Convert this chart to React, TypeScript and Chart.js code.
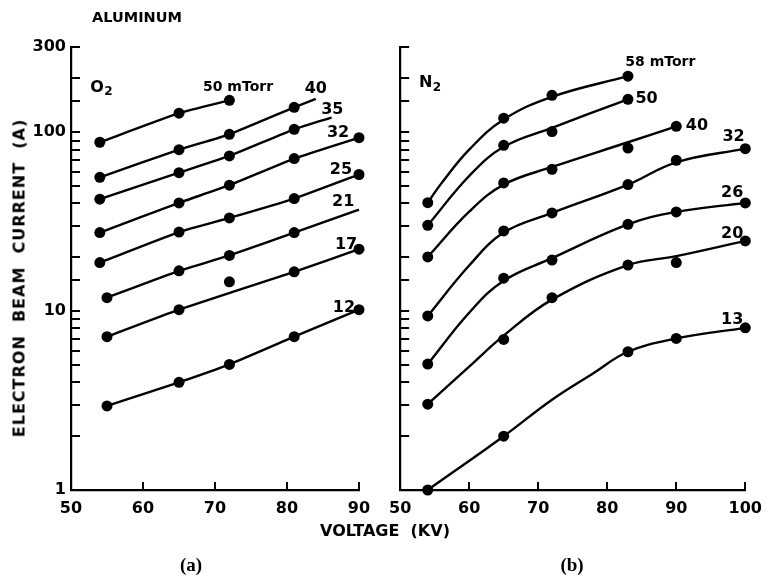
import React, { useEffect, useRef } from 'react';
import Chart from 'chart.js/auto';

type P = [number, number];

// ---------- Panel (a): O2, aluminum ----------
const O2_X_MAX = 90;
const O2_50_DOTS: P[] = [[54, 88], [65, 128], [72, 151]];
const O2_50_LINE: P[] = [[54, 88], [65, 128], [72, 151]];
const O2_40_DOTS: P[] = [[54, 56], [65, 80], [72, 97.5], [81, 138]];
const O2_40_LINE: P[] = [[54, 56], [65, 80], [72, 97.5], [81, 138], [84, 154]];
const O2_35_DOTS: P[] = [[54, 42.3], [65, 59.5], [72, 73.8], [81, 104]];
const O2_35_LINE: P[] = [[54, 42.3], [65, 59.5], [72, 73.8], [81, 104], [86.2, 121]];
const O2_32_DOTS: P[] = [[54, 27.5], [65, 40.3], [72, 50.6], [81, 71.3], [90, 93.4]];
const O2_32_LINE: P[] = [[54, 27.5], [65, 40.3], [72, 50.6], [81, 71.3], [90, 93.4]];
const O2_25_DOTS: P[] = [[54, 18.7], [65, 27.7], [72, 33.2], [81, 42.6], [90, 58.1]];
const O2_25_LINE: P[] = [[54, 18.7], [65, 27.7], [72, 33.2], [81, 42.6], [90, 58.1]];
const O2_21_DOTS: P[] = [[55, 11.9], [65, 16.8], [72, 20.5], [81, 27.5]];
const O2_21_LINE: P[] = [[55, 11.9], [65, 16.8], [72, 20.5], [81, 27.5], [90, 37]];
const O2_17_DOTS: P[] = [[55, 7.2], [65, 10.2], [72, 14.6], [81, 16.6], [90, 22.2]];
const O2_17_LINE: P[] = [[55, 7.2], [65, 10.2], [81, 16.6], [90, 22.2]];
const O2_12_DOTS: P[] = [[55, 2.95], [65, 4.0], [72, 5.04], [81, 7.2], [90, 10.2]];
const O2_12_LINE: P[] = [[55, 2.95], [65, 4.0], [72, 5.04], [81, 7.2], [90, 10.2]];

const O2_LABEL_TEXT = ['50 mTorr', '40', '35', '32', '25', '21', '17', '12'];
const O2_LABEL_KV = [73.2, 84, 86.3, 87.1, 87.5, 87.8, 88.2, 87.9];
const O2_LABEL_A = [178, 176, 134, 98.7, 61.3, 40.7, 23.4, 10.5];

// ---------- Panel (b): N2 ----------
const N2_X_MAX = 100;
const N2_58_DOTS: P[] = [[54, 40.4], [65, 120], [72, 161], [83, 206]];
const N2_58_LINE: P[] = [[54, 40.4], [56, 52], [60, 80], [65, 118], [72, 158], [83, 206]];
const N2_50_DOTS: P[] = [[54, 30.2], [65, 84.6], [72, 101], [83, 153]];
const N2_50_LINE: P[] = [[54, 30.2], [60, 57], [65, 83], [72, 106], [83, 153]];
const N2_40_DOTS: P[] = [[54, 20.1], [65, 52.1], [72, 62.1], [83, 81.7], [90, 108]];
const N2_40_LINE: P[] = [[54, 20.1], [60, 36], [65, 51], [72, 64], [83, 88], [90, 108]];
const N2_32_DOTS: P[] = [[54, 9.4], [65, 28.1], [72, 35.4], [83, 51], [90, 69.8], [100, 81]];
const N2_32_LINE: P[] = [[54, 9.4], [60, 18], [65, 27.5], [72, 35.4], [83, 51], [90, 68], [100, 81]];
const N2_26_DOTS: P[] = [[54, 5.06], [65, 15.3], [72, 19.3], [83, 30.6], [90, 35.9], [100, 40.3]];
const N2_26_LINE: P[] = [[54, 5.06], [60, 9.8], [65, 14.8], [72, 19.8], [83, 30.6], [90, 35.9], [100, 40.3]];
const N2_20_DOTS: P[] = [[54, 3.02], [65, 6.95], [72, 11.9], [83, 18.1], [90, 18.7], [100, 24.7]];
const N2_20_LINE: P[] = [[54, 3.02], [60, 4.9], [65, 7.3], [72, 11.6], [83, 18.1], [90, 20.3], [100, 24.7]];
const N2_13_DOTS: P[] = [[54, 1], [65, 2.0], [83, 5.93], [90, 7.04], [100, 8.07]];
const N2_13_LINE: P[] = [[54, 1], [65, 2.0], [72, 3.2], [78, 4.5], [83, 5.93], [90, 7.04], [100, 8.07]];

const N2_LABEL_TEXT = ['58 mTorr', '50', '40', '32', '26', '20', '13'];
const N2_LABEL_KV = [87.7, 85.7, 93.0, 98.3, 98.1, 98.1, 98.1];
const N2_LABEL_A = [246, 153, 109, 93.8, 45.6, 27.2, 8.9];

// ---------- Axes ----------
const Y_MIN = 1;
const Y_MAX = 300;
const Y_LABELS = [1, 10, 100, 300];
const X_MIN = 50;
const X_STEP = 10;

const FONT = '"DejaVu Sans", sans-serif';

type Curve = { dots: P[]; line: P[] };
type LabelItem = { text: string; sub?: string; x: number; y: number; size: number };

const panelPlugin = {
  id: 'panelDecor',
  afterDraw(chart: any) {
    const { ctx, chartArea, scales } = chart;
    const xs = scales.x;
    const ys = scales.y;
    ctx.save();
    ctx.strokeStyle = '#000';
    ctx.lineWidth = 2;
    ctx.beginPath();
    ys.ticks.forEach((t: any) => {
      const py = Math.round(ys.getPixelForValue(t.value));
      ctx.moveTo(chartArea.left, py);
      ctx.lineTo(chartArea.left + 9, py);
    });
    xs.ticks.forEach((t: any) => {
      if (t.value === xs.min) return;
      const px = Math.round(xs.getPixelForValue(t.value));
      ctx.moveTo(px, chartArea.bottom);
      ctx.lineTo(px, chartArea.bottom - 8);
    });
    ctx.stroke();

    const items: LabelItem[] = chart.options.plugins.panelDecor.items || [];
    ctx.fillStyle = '#000';
    ctx.textBaseline = 'middle';
    items.forEach((it) => {
      const px = xs.getPixelForValue(it.x);
      const py = ys.getPixelForValue(it.y);
      ctx.font = `bold ${it.size}px ${FONT}`;
      const w1 = ctx.measureText(it.text).width;
      let w2 = 0;
      if (it.sub) {
        ctx.font = `bold ${Math.round(it.size * 0.72)}px ${FONT}`;
        w2 = ctx.measureText(it.sub).width;
      }
      const start = px - (w1 + w2) / 2;
      ctx.textAlign = 'left';
      ctx.font = `bold ${it.size}px ${FONT}`;
      ctx.fillText(it.text, start, py);
      if (it.sub) {
        ctx.font = `bold ${Math.round(it.size * 0.72)}px ${FONT}`;
        ctx.fillText(it.sub, start + w1 + 0.5, py + it.size * 0.3);
      }
    });
    ctx.restore();
  },
};

function toXY(arr: P[]) {
  return arr.map(([x, y]) => ({ x, y }));
}

function makeConfig(
  curves: Curve[],
  xMax: number,
  items: LabelItem[],
  showYLabels: boolean,
  yWidth: number,
  padRight: number,
  tension: number
): any {
  const datasets: any[] = [];
  curves.forEach((c) => {
    datasets.push({
      data: toXY(c.line),
      showLine: true,
      pointRadius: 0,
      pointHoverRadius: 0,
      borderColor: '#000',
      borderWidth: 2.4,
      tension,
      clip: false,
    });
    datasets.push({
      data: toXY(c.dots),
      showLine: false,
      pointRadius: 5.5,
      pointHoverRadius: 5.5,
      backgroundColor: '#000',
      borderColor: '#000',
      borderWidth: 0,
      clip: false,
    });
  });
  const tickFont = { family: FONT, size: 16, weight: 'bold' as const };
  return {
    type: 'scatter',
    data: { datasets },
    options: {
      animation: false,
      responsive: false,
      events: [],
      layout: { padding: { top: 47, right: padRight, left: 0, bottom: 0 } },
      plugins: {
        legend: { display: false },
        tooltip: { enabled: false },
        panelDecor: { items },
      },
      scales: {
        x: {
          type: 'linear',
          min: X_MIN,
          max: xMax,
          grid: { display: false, drawTicks: false },
          border: { display: true, color: '#000', width: 2.2 },
          ticks: {
            stepSize: X_STEP,
            color: '#000',
            font: tickFont,
            padding: 9,
            maxRotation: 0,
            autoSkip: false,
          },
          afterFit: (s: any) => {
            s.height = 86;
          },
        },
        y: {
          type: 'logarithmic',
          position: 'left',
          min: Y_MIN,
          max: Y_MAX,
          grid: { display: false, drawTicks: false },
          border: { display: true, color: '#000', width: 2.2 },
          ticks: {
            display: showYLabels,
            autoSkip: false,
            color: '#000',
            font: tickFont,
            padding: 5,
            callback: (v: any) => (Y_LABELS.includes(Number(v)) ? String(v) : ''),
          },
          afterFit: (s: any) => {
            s.width = yWidth;
          },
        },
      },
    },
    plugins: [panelPlugin],
  };
}

function buildItems(texts: string[], kvs: number[], amps: number[]): LabelItem[] {
  return texts.map((t, i) => ({ text: t, x: kvs[i], y: amps[i], size: t.includes('mTorr') ? 14 : 16 }));
}

export default function App() {
  const leftRef = useRef<HTMLCanvasElement>(null);
  const rightRef = useRef<HTMLCanvasElement>(null);

  useEffect(() => {
    const o2Curves: Curve[] = [
      { dots: O2_50_DOTS, line: O2_50_LINE },
      { dots: O2_40_DOTS, line: O2_40_LINE },
      { dots: O2_35_DOTS, line: O2_35_LINE },
      { dots: O2_32_DOTS, line: O2_32_LINE },
      { dots: O2_25_DOTS, line: O2_25_LINE },
      { dots: O2_21_DOTS, line: O2_21_LINE },
      { dots: O2_17_DOTS, line: O2_17_LINE },
      { dots: O2_12_DOTS, line: O2_12_LINE },
    ];
    const n2Curves: Curve[] = [
      { dots: N2_58_DOTS, line: N2_58_LINE },
      { dots: N2_50_DOTS, line: N2_50_LINE },
      { dots: N2_40_DOTS, line: N2_40_LINE },
      { dots: N2_32_DOTS, line: N2_32_LINE },
      { dots: N2_26_DOTS, line: N2_26_LINE },
      { dots: N2_20_DOTS, line: N2_20_LINE },
      { dots: N2_13_DOTS, line: N2_13_LINE },
    ];
    const o2Items = buildItems(O2_LABEL_TEXT, O2_LABEL_KV, O2_LABEL_A);
    o2Items.push({ text: 'O', sub: '2', x: 54.2, y: 178, size: 16 });
    const n2Items = buildItems(N2_LABEL_TEXT, N2_LABEL_KV, N2_LABEL_A);
    n2Items.push({ text: 'N', sub: '2', x: 54.3, y: 188, size: 16 });

    const c1 = new Chart(leftRef.current as HTMLCanvasElement, makeConfig(o2Curves, O2_X_MAX, o2Items, true, 71, 21, 0.15));
    const c2 = new Chart(rightRef.current as HTMLCanvasElement, makeConfig(n2Curves, N2_X_MAX, n2Items, false, 12, 20, 0.4));
    return () => {
      c1.destroy();
      c2.destroy();
    };
  }, []);

  const txt: React.CSSProperties = {
    position: 'absolute',
    fontFamily: FONT,
    fontWeight: 'bold',
    color: '#000',
    whiteSpace: 'pre',
    transform: 'translate(-50%, -50%)',
  };

  return (
    <div style={{ position: 'fixed', left: 0, top: 0, width: 771, height: 576, background: '#fff', overflow: 'hidden' }}>
      <canvas ref={leftRef} width={380} height={576} style={{ position: 'absolute', left: 0, top: 0 }} />
      <canvas ref={rightRef} width={391} height={576} style={{ position: 'absolute', left: 380, top: 0 }} />
      <div style={{ ...txt, left: 137, top: 17, fontSize: 14.5 }}>ALUMINUM</div>
      <div
        style={{
          ...txt,
          left: 19,
          top: 278,
          fontSize: 16,
          letterSpacing: 1.0,
          transform: 'translate(-50%, -50%) rotate(-90deg)',
        }}
      >
        {'ELECTRON  BEAM  CURRENT  (A)'}
      </div>
      <div style={{ ...txt, left: 385, top: 530, fontSize: 16 }}>{'VOLTAGE  (KV)'}</div>
      <div style={{ ...txt, left: 191, top: 565, fontSize: 19, fontFamily: '"Liberation Serif", serif' }}>(a)</div>
      <div style={{ ...txt, left: 572, top: 565, fontSize: 19, fontFamily: '"Liberation Serif", serif' }}>(b)</div>
    </div>
  );
}
